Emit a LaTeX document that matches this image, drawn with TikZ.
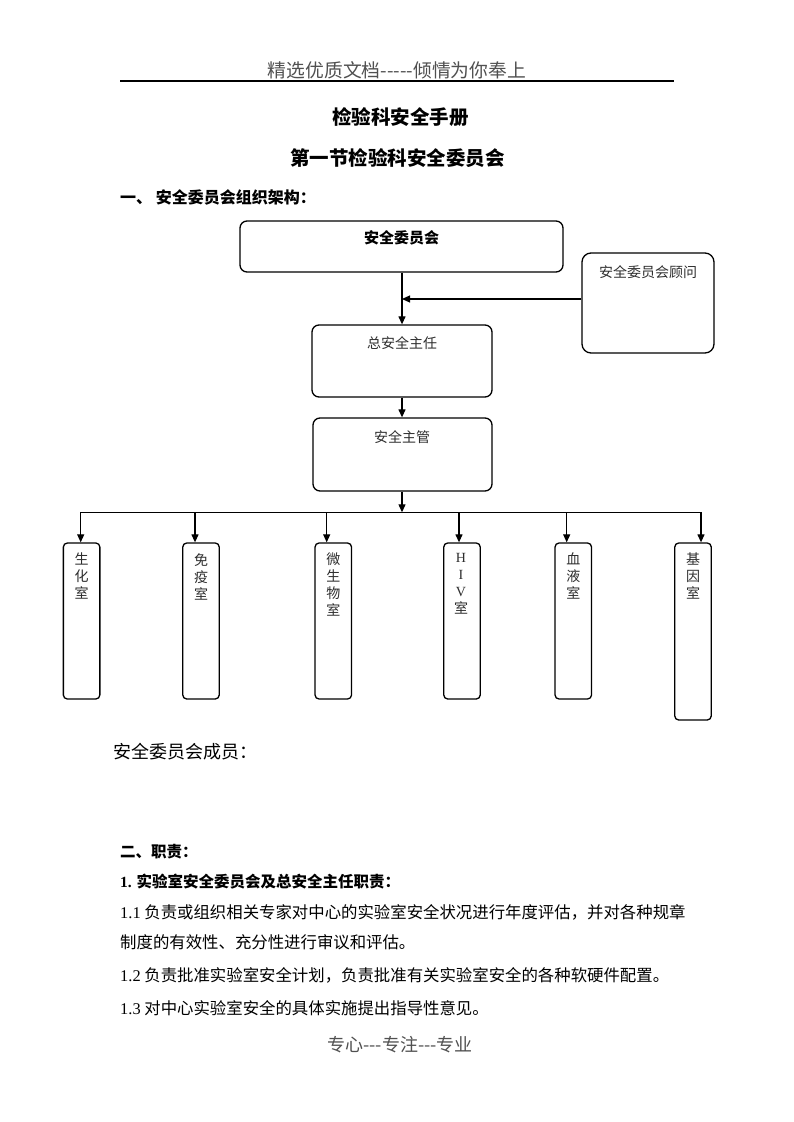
\documentclass[tikz,border=0pt]{standalone}
\usepackage{fontspec}
\setmainfont{Noto Sans CJK SC}
\newfontfamily\latin{Liberation Serif}
\usepackage{tikz}
\usetikzlibrary{arrows.meta, positioning}
\definecolor{headgray}{RGB}{80, 80, 80}
\definecolor{boxtextgray}{RGB}{45, 45, 45}
\newcommand\hy{-\kern0pt}

\begin{document}
\begin{tikzpicture}[x=1pt, y=-1pt,
    box/.style={draw, line width=1.3pt, rounded corners=7pt, inner sep=0pt},
    room/.style={draw, line width=1.3pt, rounded corners=4pt, inner sep=0pt, minimum width=36.5pt},
    boxtext/.style={text=boxtextgray, font=\fontsize{14}{17}\selectfont},
    roomtext/.style={text=boxtextgray, font=\fontsize{14}{17}\selectfont, align=center, inner sep=0pt, anchor=north},
    arr/.style={-{Triangle[length=8pt, width=7pt]}, line width=1.2pt},
    bodytext/.style={anchor=west, inner sep=0pt, font=\fontsize{16.4}{19}\selectfont}]
  \fill[white] (0,0) rectangle (793,1122);
  \useasboundingbox (0,0) rectangle (793,1122);

  % Header
  \node[text=headgray, font=\fontsize{18.8}{22}\selectfont] (header) at (397,70) {精选优质文档\hy\hy\hy\hy-倾情为你奉上};
  \draw[line width=1.1pt] (120,81) -- (674,81);
  \node[font=\bfseries\fontsize{19.5}{23}\selectfont] (title) at (400.5,117) {检验科安全手册};
  \node[font=\bfseries\fontsize{19.5}{23}\selectfont] (subtitle) at (397.5,158) {第一节检验科安全委员会};
  \node[anchor=west, inner sep=0pt, font=\bfseries\fontsize{16}{19}\selectfont] (secone) at (120,197) {一、\ 安全委员会组织架构：};

  % Chart
  \node[box, minimum width=323pt, minimum height=51pt] (committee) at (401.5,246.5) {};
  \node[font=\bfseries\fontsize{15}{18}\selectfont] (committeetext) at (401.5,238) {安全委员会};
  \node[box, rounded corners=9pt, minimum width=132pt, minimum height=100pt] (advisor) at (648,303) {};
  \node[boxtext] (advisortext) at (648,272) {安全委员会顾问};
  \node[box, minimum width=180pt, minimum height=72pt] (chief) at (402,361) {};
  \node[boxtext] (chieftext) at (402,343) {总安全主任};
  \node[box, minimum width=179pt, minimum height=73pt] (manager) at (402.5,454.5) {};
  \node[boxtext] (managertext) at (402,437) {安全主管};

  \coordinate (join) at (402,299);
  \draw[arr] (committee.south -| join) -- (chief.north -| join);
  \draw[arr] (advisor.west |- join) -- (join);
  \draw[arr] (chief.south -| join) -- (manager.north -| join);
  \coordinate (bus) at (402,512.3);
  \draw[arr] (manager.south -| bus) -- (bus);

  % Rooms
  \node[room, minimum height=156pt] (bio) at (81.6,621) {};
  \node[room, minimum height=156pt] (immune) at (201,621) {};
  \node[room, minimum height=156pt] (micro) at (333.3,621) {};
  \node[room, minimum height=156pt] (hiv) at (462,621) {};
  \node[room, minimum height=156pt] (blood) at (573.3,621) {};
  \node[room, minimum height=177pt] (gene) at (693,631.5) {};
  \node[roomtext] (biotext) at (81.6,553) {生\\化\\室};
  \node[roomtext] (immunetext) at (201,553) {免\\疫\\室};
  \node[roomtext] (microtext) at (333.3,553) {微\\生\\物\\室};
  \node[roomtext] (hivtext) at (461,553) {{\latin H}\\{\latin I}\\{\latin V}\\室};
  \node[roomtext] (bloodtext) at (573.3,553) {血\\液\\室};
  \node[roomtext] (genetext) at (693,553) {基\\因\\室};

  \coordinate (busbio) at (80.7,512.3);
  \coordinate (busimmune) at (195,512.3);
  \coordinate (busmicro) at (326.7,512.3);
  \coordinate (bushiv) at (459,512.3);
  \coordinate (busblood) at (566.7,512.3);
  \coordinate (busgene) at (701,512.3);
  \draw[line width=1.2pt] (busbio) -- (busgene);
  \draw[arr] (busbio) -- (busbio |- bio.north);
  \draw[arr] (busimmune) -- (busimmune |- immune.north);
  \draw[arr] (busmicro) -- (busmicro |- micro.north);
  \draw[arr] (bushiv) -- (bushiv |- hiv.north);
  \draw[arr] (busblood) -- (busblood |- blood.north);
  \draw[arr] (busgene) -- (busgene |- gene.north);

  % Text below
  \node[anchor=west, inner sep=0pt, font=\fontsize{18}{21}\selectfont] (members) at (113,752) {安全委员会成员：};
  \node[anchor=west, inner sep=0pt, font=\bfseries\fontsize{15.5}{18}\selectfont] (sectwo) at (120,852) {二、职责：};
  \node[anchor=west, inner sep=0pt, font=\bfseries\fontsize{15.5}{18}\selectfont] (duties) at (120,882) {{\latin 1.} 实验室安全委员会及总安全主任职责：};
  \node[bodytext] (dutyone) at (120,912) {{\latin 1.1} 负责或组织相关专家对中心的实验室安全状况进行年度评估，并对各种规章};
  \node[bodytext] (dutyonecont) at (120,942) {制度的有效性、充分性进行审议和评估。};
  \node[bodytext] (dutytwo) at (120,975) {{\latin 1.2} 负责批准实验室安全计划，负责批准有关实验室安全的各种软硬件配置。};
  \node[bodytext] (dutythree) at (120,1008) {{\latin 1.3} 对中心实验室安全的具体实施提出指导性意见。};

  % Footer
  \node[text=headgray, font=\fontsize{18}{21}\selectfont] (footer) at (400,1045) {专心\hy\hy-专注\hy\hy-专业};
\end{tikzpicture}
\end{document}
